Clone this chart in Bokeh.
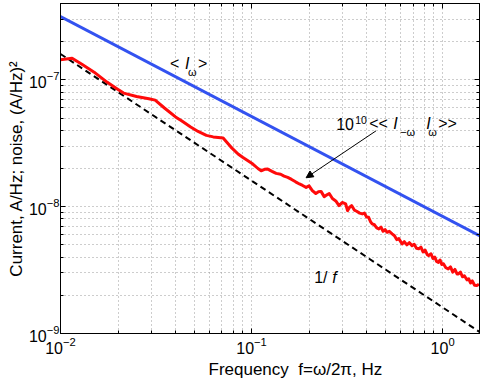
from bokeh.plotting import figure
from bokeh.models import LogAxis, FixedTicker, Label, Arrow, NormalHead, Range1d, Title
from bokeh.embed import file_html
from bokeh.resources import INLINE

# ---------------- data ----------------
red_f = [0.0100, 0.0115, 0.0130, 0.0150, 0.0175, 0.0200, 0.0214, 0.0250, 0.0290, 0.0313,
         0.0350, 0.0400, 0.0430, 0.0480, 0.0525, 0.0580, 0.0630, 0.0710, 0.0780, 0.0850,
         0.0902, 0.1016, 0.1080, 0.1123, 0.1170, 0.1216, 0.1280, 0.1345, 0.1420, 0.1480,
         0.1546, 0.1620, 0.1700, 0.1780, 0.1850, 0.1930, 0.2000, 0.2080, 0.2170, 0.2240,
         0.2310, 0.2400, 0.2480, 0.2550, 0.2650, 0.2760, 0.2870, 0.2980, 0.3110, 0.3180,
         0.3260, 0.3340, 0.3450, 0.3550, 0.3680, 0.3800, 0.3900, 0.4000, 0.4100, 0.4200,
         0.4280, 0.4400, 0.4520, 0.4640, 0.4760, 0.4880, 0.5000, 0.5130, 0.5260, 0.5440,
         0.5600, 0.5750, 0.5900, 0.6140, 0.6300, 0.6500, 0.6700, 0.6920, 0.7100, 0.7300,
         0.7500, 0.7700, 0.7900, 0.8100, 0.8300, 0.8450, 0.8700, 0.8900, 0.9100, 0.9300,
         0.9500, 0.9700, 0.9900, 1.0100, 1.0400, 1.0700, 1.1000, 1.1300, 1.1600, 1.1900,
         1.2100, 1.2400, 1.2700, 1.3000, 1.3400, 1.3700, 1.4000, 1.4300, 1.4700, 1.5100,
         1.5500]
red_y = [1.44e-7, 1.48e-7, 1.32e-7, 1.15e-7, 9.6e-8, 8.4e-8, 7.86e-8, 7.4e-8, 7.1e-8, 6.92e-8,
         6.0e-8, 5.1e-8, 4.76e-8, 4.25e-8, 3.92e-8, 3.65e-8, 3.55e-8, 3.48e-8, 2.95e-8, 2.6e-8,
         2.44e-8, 2.17e-8, 2.0e-8, 1.92e-8, 1.97e-8, 1.98e-8, 1.90e-8, 1.83e-8, 1.80e-8, 1.74e-8,
         1.70e-8, 1.64e-8, 1.57e-8, 1.51e-8, 1.47e-8, 1.42e-8, 1.46e-8, 1.34e-8, 1.27e-8, 1.31e-8,
         1.32e-8, 1.20e-8, 1.24e-8, 1.27e-8, 1.16e-8, 1.11e-8, 1.02e-8, 1.08e-8, 1.05e-8, 9.3e-9,
         9.9e-9, 1.02e-8, 9.4e-9, 9.2e-9, 8.9e-9, 8.77e-9, 8.9e-9, 8.3e-9, 8.24e-9, 7.6e-9,
         7.31e-9, 7.2e-9, 6.8e-9, 6.67e-9, 6.9e-9, 6.4e-9, 6.6e-9, 6.28e-9, 6.4e-9, 6.1e-9,
         5.9e-9, 5.5e-9, 5.6e-9, 5.08e-9, 5.3e-9, 5.0e-9, 5.2e-9, 4.93e-9, 5.05e-9, 4.7e-9,
         4.65e-9, 4.8e-9, 4.4e-9, 4.55e-9, 4.2e-9, 4.11e-9, 4.25e-9, 3.9e-9, 4.0e-9, 3.7e-9,
         3.64e-9, 3.8e-9, 3.5e-9, 3.55e-9, 3.3e-9, 3.23e-9, 3.35e-9, 3.05e-9, 3.2e-9, 2.95e-9,
         2.95e-9, 3.05e-9, 2.8e-9, 2.85e-9, 2.65e-9, 2.7e-9, 2.5e-9, 2.6e-9, 2.4e-9, 2.39e-9,
         2.45e-9]

blue_f = [0.01, 1.56]
blue_y = [3.15e-7, 5.9e-9]

onef_f = [0.01, 1.56]
onef_y = [1.6e-7, 1.03e-9]

x_lim = (0.01, 1.56)
y_lim = (1e-9, 4e-7)
x_major = [0.01, 0.1, 1.0]
y_major = [1e-9, 1e-8, 1e-7]

# annotation anchors (data units)
mean_anchor = (0.0374, 1.336e-7)
corr_anchor = (0.2773, 4.51e-8)
onef_anchor = (0.2128, 2.76e-9)
arrow_start = (0.448, 3.96e-8)
arrow_end = (0.193, 1.69e-8)

x_title = "Frequency\u00a0\u00a0f=\u03c9/2\u03c0, Hz"
y_title = "Current, A/Hz; noise, (A/Hz)\u00b2"

FONT = "Liberation Sans"
FS = "16px"
FS_LAB = "17px"
FS_SUB = "11px"

x_minor = [m * d for d in (0.01, 0.1, 1.0) for m in range(2, 10)]
y_minor = [m * d for d in (1e-9, 1e-8, 1e-7) for m in range(2, 10)]

p = figure(width=485, height=379, x_axis_type="log", y_axis_type="log",
           x_range=Range1d(*x_lim), y_range=Range1d(*y_lim),
           output_backend="svg", toolbar_location=None,
           min_border_left=60, min_border_right=6, min_border_top=3, min_border_bottom=46)
p.background_fill_color = "white"
p.border_fill_color = "white"
p.outline_line_color = "black"
p.outline_line_width = 1

xt = FixedTicker(ticks=x_major, minor_ticks=x_minor)
yt = FixedTicker(ticks=y_major, minor_ticks=y_minor)

for ax, t in ((p.xaxis[0], xt), (p.yaxis[0], yt)):
    ax.ticker = t
    ax.major_tick_in = 5
    ax.major_tick_out = 0
    ax.minor_tick_in = 3
    ax.minor_tick_out = 0
    ax.axis_line_color = "black"
    ax.major_tick_line_color = "black"
    ax.minor_tick_line_color = "black"
    ax.major_label_text_font = FONT
    ax.major_label_text_font_size = FS
    ax.major_label_text_color = "black"
    ax.axis_label_text_font = FONT
    ax.axis_label_text_font_size = FS_LAB
    ax.axis_label_text_font_style = "normal"
    ax.axis_label_text_color = "black"

p.xaxis[0].major_label_standoff = 3
p.yaxis[0].major_label_standoff = 1
p.yaxis[0].axis_label = y_title
p.yaxis[0].axis_label_standoff = 0

for loc, t in (("above", xt), ("right", yt)):
    ax = LogAxis(ticker=t, major_tick_in=5, major_tick_out=0, minor_tick_in=3, minor_tick_out=0,
                 major_label_text_font_size="2px", major_label_text_alpha=0,
                 major_label_standoff=0, axis_line_color="black")
    p.add_layout(ax, loc)

p.add_layout(Title(text=x_title, align="left", offset=148, text_font=FONT,
                   text_font_size=FS_LAB, text_font_style="normal", text_color="black",
                   standoff=2), "below")

for g, t in ((p.xgrid[0], xt), (p.ygrid[0], yt)):
    g.ticker = t
    g.grid_line_color = "#9a9a9a"
    g.grid_line_dash = "1 3"
    g.grid_line_width = 1
    g.minor_grid_line_color = "#9a9a9a"
    g.minor_grid_line_dash = "1 3"
    g.minor_grid_line_width = 1

p.line(blue_f, blue_y, line_color="#3352f0", line_width=3)
p.line(onef_f, onef_y, line_color="black", line_width=2, line_dash="6 4")
p.line(red_f, red_y, line_color="#ff0a0a", line_width=3, line_join="round")

def lab(anchor, text, dx, dy, size=FS, style="normal"):
    p.add_layout(Label(x=anchor[0], y=anchor[1], x_offset=dx, y_offset=dy, text=text,
                       text_font=FONT, text_font_size=size, text_font_style=style,
                       text_color="black", text_baseline="alphabetic", text_align="left"))

# < I_w >
lab(mean_anchor, "<", 0, 0)
lab(mean_anchor, "I", 15, 0, style="italic")
lab(mean_anchor, "\u03c9", 18, -8, size=FS_SUB)
lab(mean_anchor, ">", 28, 0)

# 10^10 << I_-w I_w >>
lab(corr_anchor, "10", 0, 0)
lab(corr_anchor, "10", 19, 4, size="10.5px")
lab(corr_anchor, "<<", 33, 0)
lab(corr_anchor, "I", 57, 0, style="italic")
lab(corr_anchor, "\u2212\u03c9", 64, -8, size=FS_SUB)
lab(corr_anchor, "I", 90, 0, style="italic")
lab(corr_anchor, "\u03c9", 92, -8, size=FS_SUB)
lab(corr_anchor, ">>", 102, 0)

# 1/f
lab(onef_anchor, "1/", 0, 0)
lab(onef_anchor, "f", 18, 0, style="italic")

p.add_layout(Arrow(x_start=arrow_start[0], y_start=arrow_start[1],
                   x_end=arrow_end[0], y_end=arrow_end[1],
                   line_color="black", line_width=1,
                   end=NormalHead(size=7, fill_color="black", line_color="black")))

open("out.html", "w").write(file_html(p, INLINE))
